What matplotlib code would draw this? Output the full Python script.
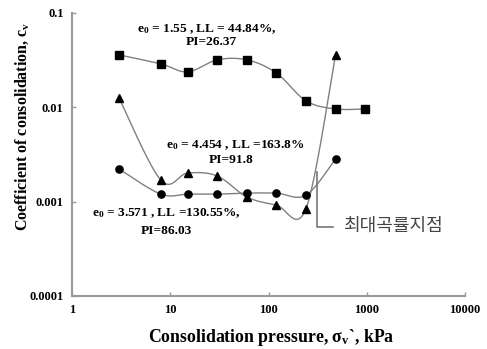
import numpy as np
import matplotlib
matplotlib.use("Agg")
import matplotlib.pyplot as plt

plt.rcParams["font.family"] = "Liberation Serif"
plt.rcParams["font.weight"] = "bold"
plt.rcParams["axes.labelweight"] = "bold"
plt.rcParams["mathtext.fontset"] = "custom"
plt.rcParams["mathtext.rm"] = "Liberation Serif:bold"
plt.rcParams["mathtext.it"] = "Liberation Serif:bold"
plt.rcParams["mathtext.bf"] = "Liberation Serif:bold"

# consolidation pressure steps (kPa)
pressure = [3, 8, 15, 30, 60, 120, 240, 480, 960]

# coefficient of consolidation for each sample
cv_sq = [0.0359, 0.0288, 0.0237, 0.0318, 0.0318, 0.0231, 0.0117, 0.0096, 0.0096]
cv_tri = [0.0126, 0.00169, 0.00201, 0.00187, 0.00112, 0.00092, 0.00084, 0.0359]
cv_circ = [0.00222, 0.00120, 0.00120, 0.00120, 0.00123, 0.00123, 0.00117, 0.00283]

x_ticks = [1, 10, 100, 1000, 10000]
x_ticklabels = ["1", "10", "100", "1000", "10000"]
y_ticks = [0.0001, 0.001, 0.01, 0.1]
y_ticklabels = ["0.0001", "0.001", "0.01", "0.1"]


def smooth(xs, ys, n=30):
    # spreadsheet-style smoothed line (cubic Bezier / Catmull-Rom) in log space
    lx = np.log10(xs)
    ly = np.log10(ys)
    pts = np.column_stack([lx, ly])
    out = [pts[0]]
    for i in range(len(pts) - 1):
        p0 = pts[i - 1] if i > 0 else pts[i]
        p1 = pts[i]
        p2 = pts[i + 1]
        p3 = pts[i + 2] if i + 2 < len(pts) else pts[i + 1]
        c1 = p1 + (p2 - p0) / 6.0
        c2 = p2 - (p3 - p1) / 6.0
        t = np.linspace(0, 1, n)[1:, None]
        seg = ((1 - t) ** 3) * p1 + 3 * ((1 - t) ** 2) * t * c1 + 3 * (1 - t) * t ** 2 * c2 + t ** 3 * p2
        out.extend(seg)
    out = np.array(out)
    return 10 ** out[:, 0], 10 ** out[:, 1]


W, H = 487, 349
fig = plt.figure(figsize=(W / 100, H / 100), dpi=100)
ax = fig.add_axes([0.148, 0.152, 0.807, 0.811])

line_col = "#808080"
for ys, mk, ms in [(cv_sq, "s", 5.2), (cv_tri, "^", 5.8), (cv_circ, "o", 5.2)]:
    xs = pressure[:len(ys)]
    sx, sy = smooth(xs, ys)
    ax.plot(sx, sy, color=line_col, lw=1.0, zorder=2)
    ax.plot(xs, ys, ls="none", marker=mk, ms=ms, color="black", zorder=3)

ax.set_xscale("log")
ax.set_yscale("log")
ax.set_xlim(1, 10000)
ax.set_ylim(0.0001, 0.1)
ax.set_xticks(x_ticks)
ax.set_xticklabels(x_ticklabels)
ax.set_yticks(y_ticks)
ax.set_yticklabels(y_ticklabels)
ax.minorticks_off()
ax.tick_params(direction="in", length=3, width=1, color="#999999", labelsize=9, pad=6)
for s in ["top", "right"]:
    ax.spines[s].set_visible(False)
for s in ["left", "bottom"]:
    ax.spines[s].set_color("#999999")
    ax.spines[s].set_linewidth(1.5)

# axis titles placed in figure pixels
fig.text(271 / W, 1 - 337 / H, "Consolidation pressure, σ$_\\mathrm{v}$`, kPa",
         fontsize=12.8, fontweight="bold", ha="center", va="center")
fig.text(22 / W, 1 - 126 / H, "Coefficient of consolidation, c$_\\mathrm{v}$",
         fontsize=11.5, fontweight="bold", ha="center", va="center", rotation=90)

notes = [
    ("e$_\\mathrm{0}$ = 1.55 , LL = 44.84%,", 207, 29),
    ("PI=26.37", 211, 42),
    ("e$_\\mathrm{0}$ = 4.454 , LL =163.8%", 235, 145),
    ("PI=91.8", 231, 160),
    ("e$_\\mathrm{0}$ = 3.571 , LL =130.55%,", 166, 213),
    ("PI=86.03", 166, 231),
]
for txt, px, py in notes:
    fig.text(px / W, 1 - py / H, txt, fontsize=9.6, fontweight="bold", ha="center", va="center")

# bracket pointing at the point of maximum curvature
fig.add_artist(plt.Line2D([317 / W, 317 / W, 333 / W],
                          [1 - 172 / H, 1 - 227 / H, 1 - 227 / H],
                          color="#777777", lw=1.2))
fig.text(343 / W, 1 - 226 / H, "최대곡률지점", family=["Noto Sans CJK KR", "DejaVu Sans"],
         fontweight="normal", fontsize=13, color="#444444", ha="left", va="center")

fig.savefig("out.png", dpi=100)
